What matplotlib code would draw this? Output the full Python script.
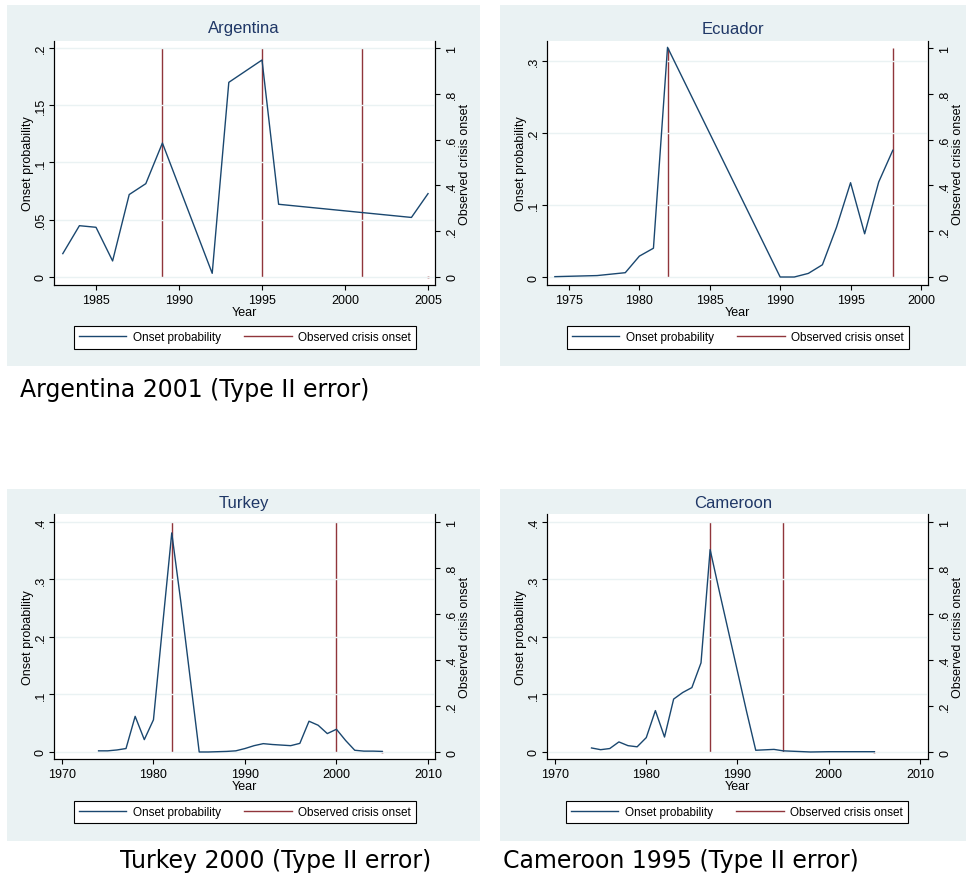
import matplotlib
matplotlib.use("Agg")
import matplotlib.pyplot as plt
from matplotlib.patches import Rectangle
from matplotlib.ticker import FuncFormatter

plt.rcParams['font.family'] = ['Liberation Sans', 'DejaVu Sans']

# ---- data ----
arg_years = [1983, 1984, 1985, 1986, 1987, 1988, 1989, 1992, 1993, 1995, 1996, 2004, 2005]
arg_prob = [0.0204, 0.0448, 0.0434, 0.014, 0.072, 0.0815, 0.117, 0.0032, 0.170, 0.1895, 0.0635, 0.052, 0.0728]
arg_crisis = [1989, 1995, 2001]

ecu_years = [1974, 1975, 1976, 1977, 1978, 1979, 1980, 1981, 1982, 1990, 1991, 1992, 1993, 1994,
             1995, 1996, 1997, 1998]
ecu_prob = [0.0005, 0.001, 0.0015, 0.002, 0.004, 0.006, 0.029, 0.040, 0.319, 0.0, 0.0, 0.005,
            0.017, 0.069, 0.131, 0.060, 0.132, 0.176]
ecu_crisis = [1982, 1998]

tur_years = list(range(1974, 2006))
tur_prob = [0.002, 0.002, 0.0035, 0.006, 0.062, 0.0215, 0.056, 0.22, 0.381, 0.26, 0.13, 0.0,
            0.0, 0.0005, 0.001, 0.002, 0.006, 0.011, 0.0145, 0.013, 0.012, 0.011, 0.015, 0.0535,
            0.0465, 0.032, 0.0395, 0.02, 0.003, 0.0015, 0.0015, 0.001]
tur_crisis = [1982, 2000]

cam_years = list(range(1974, 1993)) + [1994, 1995, 1998, 2000, 2005]
cam_prob = [0.007, 0.004, 0.006, 0.0175, 0.011, 0.009, 0.025, 0.072, 0.026, 0.092, 0.1035, 0.112,
            0.155, 0.352, 0.28, 0.21, 0.14, 0.07, 0.003, 0.0045, 0.002, 0.0, 0.0005, 0.0005]
cam_crisis = [1987, 1995]

panels = [
    dict(title="Argentina", years=arg_years, prob=arg_prob, crisis=arg_crisis, end_dot=2005,
         yticks=[0, 0.05, 0.1, 0.15, 0.2], xticks=[1985, 1990, 1995, 2000, 2005],
         bg=(7, 6, 480, 367), ax=(54, 42, 435, 286), title_y=29, leg=(245, 338.5),
         xlim=(1982.47, 2005.42), ylim=(-0.007, 0.2061), y2lim=(-0.035, 1.0306)),
    dict(title="Ecuador", years=ecu_years, prob=ecu_prob, crisis=ecu_crisis, end_dot=None,
         yticks=[0, 0.1, 0.2, 0.3], xticks=[1975, 1980, 1985, 1990, 1995, 2000],
         bg=(500, 6, 966, 367), ax=(547, 42, 928, 286), title_y=29, leg=(738, 338.5),
         xlim=(1973.44, 2000.5), ylim=(-0.0111, 0.3278), y2lim=(-0.035, 1.0306)),
    dict(title="Turkey", years=tur_years, prob=tur_prob, crisis=tur_crisis, end_dot=2005,
         yticks=[0, 0.1, 0.2, 0.3, 0.4], xticks=[1970, 1980, 1990, 2000, 2010],
         bg=(7, 490, 480, 842), ax=(54, 515, 435, 760), title_y=504, leg=(245, 813),
         xlim=(1969.13, 2010.77), ylim=(-0.0122, 0.4139), y2lim=(-0.0304, 1.0348)),
    dict(title="Cameroon", years=cam_years, prob=cam_prob, crisis=cam_crisis, end_dot=2005,
         yticks=[0, 0.1, 0.2, 0.3, 0.4], xticks=[1970, 1980, 1990, 2000, 2010],
         bg=(500, 490, 966, 842), ax=(547, 515, 928, 760), title_y=504, leg=(737, 813),
         xlim=(1969.12, 2010.88), ylim=(-0.0122, 0.4139), y2lim=(-0.0304, 1.0348)),
]

captions = [("Argentina 2001 (Type II error)", 20, 390),
            ("Turkey 2000 (Type II error)", 120, 861),
            ("Cameroon 1995 (Type II error)", 503, 861)]

W, H = 966, 878
BG = '#eaf2f3'
NAVY = '#1a476f'
MAROON = '#90353b'
TITLE = '#1f3766'


def short(v, pos=None):
    s = f'{v:g}'
    if s.startswith('0.'):
        s = s[1:]
    return s


fig = plt.figure(figsize=(W / 100, H / 100), dpi=100)

for p in panels:
    x0, y0, x1, y1 = p['bg']
    fig.patches.append(Rectangle((x0 / W, 1 - y1 / H), (x1 - x0) / W, (y1 - y0) / H,
                                 transform=fig.transFigure, facecolor=BG, edgecolor='none', zorder=-5))

    a0, b0, a1, b1 = p['ax']
    ax = fig.add_axes([a0 / W, 1 - b1 / H, (a1 - a0) / W, (b1 - b0) / H])
    ax2 = ax.twinx()

    ax.set_xlim(*p['xlim'])
    ax.set_ylim(*p['ylim'])
    ax2.set_ylim(*p['y2lim'])

    for t in p['yticks']:
        ax.axhline(t, color=BG, lw=1.0, zorder=0)

    l1, = ax.plot(p['years'], p['prob'], color=NAVY, lw=1.0, zorder=3)
    ax2.vlines(p['crisis'], 0, 1, color=MAROON, lw=1.0, zorder=2)
    l2, = ax2.plot([], [], color=MAROON, lw=1.0)
    if p['end_dot']:
        ax2.plot([p['end_dot']], [0], marker='s', ms=1.3, color=MAROON, mec='none', lw=0)

    ax.set_yticks(p['yticks'])
    ax.yaxis.set_major_formatter(FuncFormatter(short))
    ax2.set_yticks([0, 0.2, 0.4, 0.6, 0.8, 1])
    ax2.yaxis.set_major_formatter(FuncFormatter(short))
    ax.set_xticks(p['xticks'])

    for a in (ax, ax2):
        a.spines['top'].set_visible(False)
        for s in ('left', 'right', 'bottom'):
            a.spines[s].set_linewidth(0.8)
            a.spines[s].set_color('#000000')
        a.tick_params(length=3.6, width=0.8, labelsize=9, colors='black')
    ax.tick_params(axis='y', labelrotation=90, pad=1.5)
    ax2.tick_params(axis='y', labelrotation=90, pad=4.5)
    ax.tick_params(axis='x', pad=3)
    for lab in ax.get_yticklabels() + ax2.get_yticklabels():
        lab.set_verticalalignment('center')

    ax.set_xlabel("Year", fontsize=9, labelpad=0)
    ax.set_ylabel("Onset probability", fontsize=9)
    ax2.set_ylabel("Observed crisis onset", fontsize=9)
    ax.yaxis.set_label_coords(-20 / (a1 - a0), 0.5)
    ax2.yaxis.set_label_coords(1 + 24 / (a1 - a0), 0.5)
    ax.set_zorder(ax2.get_zorder() + 1)
    ax.patch.set_visible(False)
    ax2.patch.set_facecolor('white')
    ax2.patch.set_visible(True)

    fig.text((x0 + x1) / 2 / W, 1 - p['title_y'] / H, p['title'], ha='center', va='center',
             fontsize=12, color=TITLE)

    lx, ly = p['leg']
    ax.legend([l1, l2], ["Onset probability", "Observed crisis onset"], ncol=2,
              loc='center', bbox_to_anchor=(lx / W, 1 - ly / H), bbox_transform=fig.transFigure,
              fontsize=8.5, frameon=True, fancybox=False, framealpha=1, edgecolor='black',
              handlelength=4.0, handletextpad=0.55, columnspacing=2.0, borderpad=0.45,
              borderaxespad=0)
    ax.get_legend().get_frame().set_linewidth(0.8)

for text, x, y in captions:
    fig.text(x / W, 1 - y / H, text, ha='left', va='center', fontsize=17,
             family='DejaVu Sans', color='black')

fig.savefig("out.png", dpi=100)
